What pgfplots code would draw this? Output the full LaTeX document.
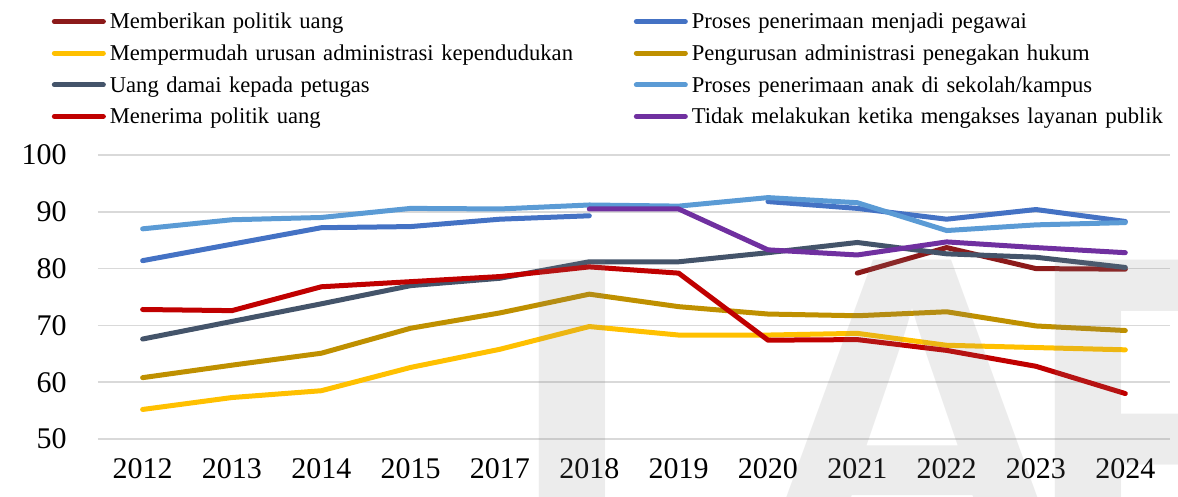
\documentclass[border=0pt]{standalone}
\usepackage{fontspec}
\setmainfont{Liberation Serif}
\newfontfamily\wmfont{Liberation Sans}
\usepackage{pgfplots}
\pgfplotsset{compat=1.18}

\definecolor{cMaroon}{HTML}{8C1A1A}
\definecolor{cBlue}{HTML}{4472C4}
\definecolor{cYellow}{HTML}{FFC000}
\definecolor{cGold}{HTML}{BF9000}
\definecolor{cSlate}{HTML}{44546A}
\definecolor{cSky}{HTML}{5B9BD5}
\definecolor{cRed}{HTML}{C00000}
\definecolor{cPurple}{HTML}{7030A0}
\definecolor{gridgray}{HTML}{D9D9D9}

\begin{document}
\begin{tikzpicture}
\begin{axis}[
    scale only axis,
    width=536pt, height=142pt,
    xmin=-0.5, xmax=11.5, ymin=50, ymax=100,
    xtick={0,...,11},
    xticklabels={2012,2013,2014,2015,2017,2018,2019,2020,2021,2022,2023,2024},
    ytick={50,60,...,100},
    ymajorgrids,
    grid style={draw=gridgray, line width=0.85pt},
    axis line style={draw=none},
    major tick style={draw=none},
    tick label style={font=\fontsize{15}{18}\selectfont, inner sep=0pt},
    /pgf/number format/assume math mode=true,
    xticklabel shift=9.5pt, yticklabel shift=15.5pt,
    unbounded coords=jump,
    every axis plot/.append style={line width=2.5pt, line cap=round, line join=round, mark=none},
    legend columns=2,
    legend cell align=left,
    legend image code/.code={\draw[#1] (0pt,0pt) -- (24.5pt,0pt);},
    legend style={at={(-0.0434,1.507)}, anchor=north west, draw=none, fill=none,
        inner sep=0pt, row sep=5.6pt, font=\fontsize{11.3}{13}\selectfont,
        nodes={inner sep=0pt, text width=240pt, align=left, text height=8.7pt, text depth=1.5pt},
        /tikz/every odd column/.append style={column sep=2pt},
        /tikz/every even column/.append style={column sep=22pt}},
]
\addplot[cMaroon] coordinates {(0,nan) (1,nan) (2,nan) (3,nan) (4,nan) (5,nan) (6,nan) (7,nan)
    (8,79.2) (9,83.7) (10,80.0) (11,79.9)};
\addlegendentry{Memberikan politik uang}
\addplot[cBlue] coordinates {(0,81.4) (1,84.3) (2,87.2) (3,87.4) (4,88.7) (5,89.3) (6,nan)
    (7,91.8) (8,90.6) (9,88.7) (10,90.4) (11,88.3)};
\addlegendentry{Proses penerimaan menjadi pegawai}
\addplot[cYellow] coordinates {(0,55.2) (1,57.3) (2,58.5) (3,62.6) (4,65.8) (5,69.8) (6,68.3)
    (7,68.3) (8,68.6) (9,66.5) (10,66.1) (11,65.7)};
\addlegendentry{Mempermudah urusan administrasi kependudukan}
\addplot[cGold] coordinates {(0,60.8) (1,63.0) (2,65.1) (3,69.5) (4,72.2) (5,75.5) (6,73.3)
    (7,72.0) (8,71.7) (9,72.4) (10,69.9) (11,69.1)};
\addlegendentry{Pengurusan administrasi penegakan hukum}
\addplot[cSlate] coordinates {(0,67.6) (1,70.7) (2,73.8) (3,77.0) (4,78.3) (5,81.2) (6,81.2)
    (7,82.8) (8,84.6) (9,82.6) (10,82.0) (11,80.2)};
\addlegendentry{Uang damai kepada petugas}
\addplot[cSky] coordinates {(0,87.0) (1,88.6) (2,89.0) (3,90.6) (4,90.5) (5,91.2) (6,91.0)
    (7,92.5) (8,91.6) (9,86.7) (10,87.7) (11,88.1)};
\addlegendentry{Proses penerimaan anak di sekolah/kampus}
\addplot[cRed] coordinates {(0,72.8) (1,72.6) (2,76.8) (3,77.7) (4,78.6) (5,80.3) (6,79.2)
    (7,67.4) (8,67.5) (9,65.6) (10,62.8) (11,58.0)};
\addlegendentry{Menerima politik uang}
\addplot[cPurple] coordinates {(0,nan) (1,nan) (2,nan) (3,nan) (4,nan) (5,90.5) (6,90.5)
    (7,83.3) (8,82.4) (9,84.7) (10,83.7) (11,82.8)};
\addlegendentry{Tidak melakukan ketika mengakses layanan publik}

\coordinate (wI) at (rel axis cs:0.4422,0.630);
\coordinate (wA) at (rel axis cs:0.760,0.630);
\coordinate (wP) at (rel axis cs:0.8638,0.630);
\coordinate (bbl) at (rel axis cs:-0.0914,-0.2042);
\coordinate (btr) at (rel axis cs:1.0075,1.5458);
\end{axis}
% faint watermark lying over the plot
\begin{scope}
\clip (bbl) rectangle (btr);
\begin{scope}[every node/.style={overlay, inner sep=0pt, text=black!50, opacity=0.15,
        font=\wmfont\bfseries\fontsize{230}{230}\selectfont}]
\node[anchor=north] at (wI) {I};
\node[anchor=north] at (wA) {A};
\node[anchor=north west] at (wP) {P};
\end{scope}
\end{scope}
\pgfresetboundingbox
\path[use as bounding box] (bbl) rectangle (btr);
\end{tikzpicture}
\end{document}
